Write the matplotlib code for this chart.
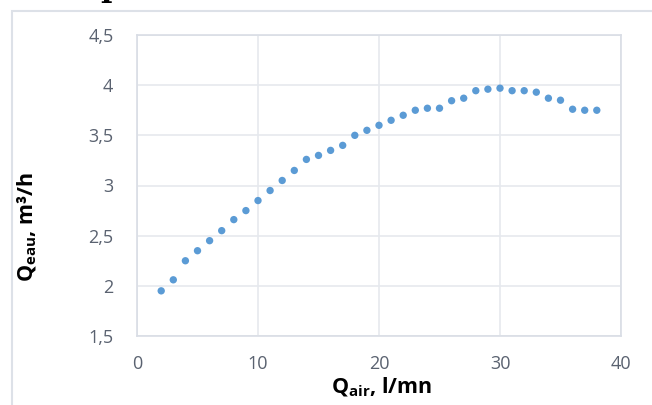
import matplotlib
matplotlib.use("Agg")
import matplotlib.pyplot as plt
from matplotlib.patches import Rectangle

plt.rcParams["mathtext.fontset"] = "custom"
plt.rcParams["mathtext.rm"] = "Open Sans"
plt.rcParams["mathtext.bf"] = "Open Sans:bold"

q_air = [2, 3, 4, 5, 6, 7, 8, 9, 10, 11, 12, 13, 14, 15, 16, 17, 18, 19, 20,
         21, 22, 23, 24, 25, 26, 27, 28, 29, 30, 31, 32, 33, 34, 35, 36, 37, 38]
q_eau = [1.95, 2.06, 2.25, 2.35, 2.45, 2.55, 2.66, 2.75, 2.85, 2.95, 3.05, 3.15,
         3.26, 3.30, 3.35, 3.40, 3.50, 3.55, 3.60, 3.65, 3.70, 3.75, 3.77, 3.77,
         3.845, 3.87, 3.945, 3.96, 3.97, 3.945, 3.945, 3.93, 3.87, 3.85, 3.76,
         3.75, 3.75]
x_ticks = [0, 10, 20, 30, 40]
x_labels = ["0", "10", "20", "30", "40"]
y_ticks = [1.5, 2, 2.5, 3, 3.5, 4, 4.5]
y_labels = ["1,5", "2", "2,5", "3", "3,5", "4", "4,5"]

W, H = 652, 405
fig = plt.figure(figsize=(W / 100, H / 100), dpi=100)

# outer chart frame
fig.patches.append(Rectangle((11.5 / W, -0.1), 1.0, 1 - 11.5 / H + 0.1,
                             transform=fig.transFigure, fill=False,
                             edgecolor="#DDE1E8", linewidth=1.5))

# partially visible heading glyph at the top (cropped in the reference)
fig.text(111 / W, 1 + 4 / H, "p", family="DejaVu Serif", fontweight="bold",
         fontsize=22, ha="center", va="baseline", color="black")

ax = fig.add_axes([137 / W, 1 - 336 / H, (621 - 137) / W, (336 - 35) / H])
ax.scatter(q_air, q_eau, s=28, color="#5B9BD5", edgecolors="none", zorder=3)

ax.set_xlim(0, 40)
ax.set_ylim(1.5, 4.5)
ax.set_xticks(x_ticks)
ax.set_xticklabels(x_labels)
ax.set_yticks(y_ticks)
ax.set_yticklabels(y_labels)
ax.grid(True, color="#E6E9EE", linewidth=1.2)
ax.set_axisbelow(True)
for s in ax.spines.values():
    s.set_color("#D9DDE5")
    s.set_linewidth(1.2)
ax.tick_params(length=0, labelsize=13, labelcolor="#5A6270", pad=17)
for lab in ax.get_xticklabels() + ax.get_yticklabels():
    lab.set_family("Open Sans")
ax.tick_params(axis="x", pad=14)

fig.text(382 / W, 1 - 387 / H, r"Q$_{\mathbf{air}}$, l/mn", ha="center", va="center",
         fontsize=15.5, fontweight="bold", family="Open Sans")
fig.text(27 / W, 1 - 227 / H, r"Q$_{\mathbf{eau}}$, m³/h", ha="center", va="center",
         rotation=90, fontsize=15.5, fontweight="bold", family="Open Sans")

fig.savefig("out.png", dpi=100)
